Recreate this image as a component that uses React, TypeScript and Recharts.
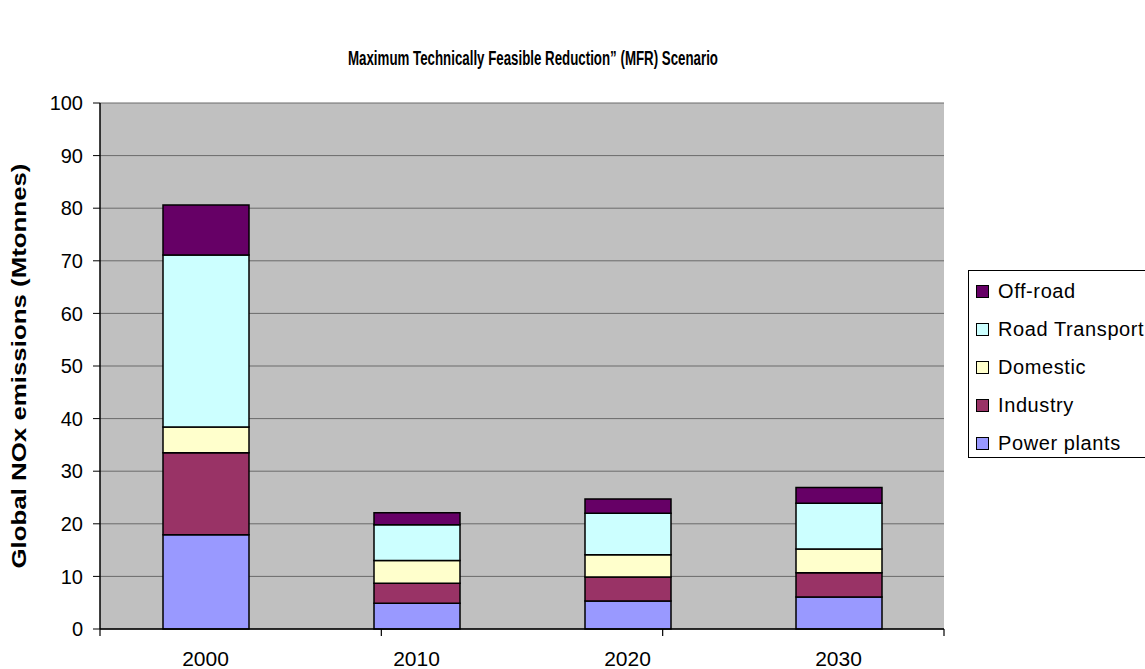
import { BarChart, Bar, XAxis, YAxis, CartesianGrid, ReferenceLine } from 'recharts';

const years = ['2000', '2010', '2020', '2030'];
const powerPlants = [17.9, 4.9, 5.3, 6.1];
const industry = [15.6, 3.8, 4.6, 4.6];
const domestic = [4.9, 4.3, 4.2, 4.5];
const roadTransport = [32.7, 6.8, 7.9, 8.7];
const offRoad = [9.5, 2.3, 2.7, 3.0];
const yTicks = [0, 10, 20, 30, 40, 50, 60, 70, 80, 90, 100];
const boundaryTicks = [0, 1, 2, 3, 4];

const series = [
  { key: 'power', name: 'Power plants', color: '#9999ff' },
  { key: 'industry', name: 'Industry', color: '#993366' },
  { key: 'domestic', name: 'Domestic', color: '#ffffcc' },
  { key: 'road', name: 'Road Transport', color: '#ccffff' },
  { key: 'offroad', name: 'Off-road', color: '#660066' },
];

const data = years.map((year, i) => ({
  year,
  power: powerPlants[i],
  industry: industry[i],
  domestic: domestic[i],
  road: roadTransport[i],
  offroad: offRoad[i],
}));

const FONT = "Arial, 'Liberation Sans', sans-serif";

export default function App() {
  return (
    <div style={{ position: 'absolute', left: 0, top: 0, width: 1145, height: 669, fontFamily: FONT, overflow: 'hidden' }}>
      <BarChart width={1145} height={669} data={data} margin={{ top: 103, right: 201, bottom: 9, left: 40 }}>
        <CartesianGrid vertical={false} fill="#c0c0c0" fillOpacity={1} stroke="#6a6a6a" />
        <XAxis
          xAxisId="z"
          dataKey="year"
          height={30}
          tickLine={false}
          tickSize={0}
          tickMargin={21}
          axisLine={false}
          tick={{ fontSize: 21, fill: '#000', fontFamily: FONT }}
        />
        {/* boundary ticks between categories, drawn on a numeric axis */}
        <XAxis
          xAxisId="a"
          type="number"
          domain={[0, 4]}
          ticks={boundaryTicks}
          interval={0}
          allowDataOverflow
          height={1}
          axisLine={{ stroke: '#000', strokeWidth: 1.5 }}
          tickFormatter={() => ''}
          tickSize={7}
          tickLine={{ stroke: '#000', strokeWidth: 1.2 }}
        />
        <YAxis
          domain={[0, 100]}
          ticks={yTicks}
          interval={0}
          width={60}
          tickSize={7}
          tickMargin={10}
          axisLine={{ stroke: '#000', strokeWidth: 1.5 }}
          tickLine={{ stroke: '#000' }}
          tick={{ fontSize: 20, fill: '#000', fontFamily: FONT }}
        />
        <ReferenceLine xAxisId="a" x={4} stroke="#808080" strokeWidth={1.5} />
        {series.map((s) => (
          <Bar
            key={s.key}
            xAxisId="z"
            dataKey={s.key}
            name={s.name}
            stackId="a"
            fill={s.color}
            stroke="#000"
            strokeWidth={1.5}
            barSize={86}
            isAnimationActive={false}
          />
        ))}
      </BarChart>
      <svg width={1145} height={669} style={{ position: 'absolute', left: 0, top: 0, pointerEvents: 'none' }}>
        <text
          x={533}
          y={65}
          textAnchor="middle"
          fontFamily={FONT}
          fontWeight="bold"
          fontSize={20}
          textLength={370}
          lengthAdjust="spacingAndGlyphs"
          fill="#000"
        >
          Maximum Technically Feasible Reduction” (MFR) Scenario
        </text>
        <text
          x={18}
          y={366}
          transform="rotate(-90 18 366)"
          textAnchor="middle"
          dominantBaseline="central"
          fontFamily={FONT}
          fontWeight="bold"
          fontSize={21}
          textLength={405}
          lengthAdjust="spacingAndGlyphs"
          fill="#000"
        >
          Global NOx emissions (Mtonnes)
        </text>
      </svg>
      <div
        style={{
          position: 'absolute',
          left: 968,
          top: 270,
          width: 190,
          height: 188,
          border: '1px solid #000',
          background: '#fff',
          boxSizing: 'border-box',
        }}
      >
        {[...series].reverse().map((s, i) => (
          <div
            key={s.key}
            style={{
              position: 'absolute',
              left: 7,
              top: 8 + i * 38,
              height: 24,
              display: 'flex',
              alignItems: 'center',
              whiteSpace: 'nowrap',
              fontSize: 20,
              letterSpacing: 0.6,
              color: '#000',
            }}
          >
            <span style={{ display: 'inline-block', width: 11, height: 11, background: s.color, border: '1px solid #000', marginRight: 9 }} />
            {s.name}
          </div>
        ))}
      </div>
    </div>
  );
}
